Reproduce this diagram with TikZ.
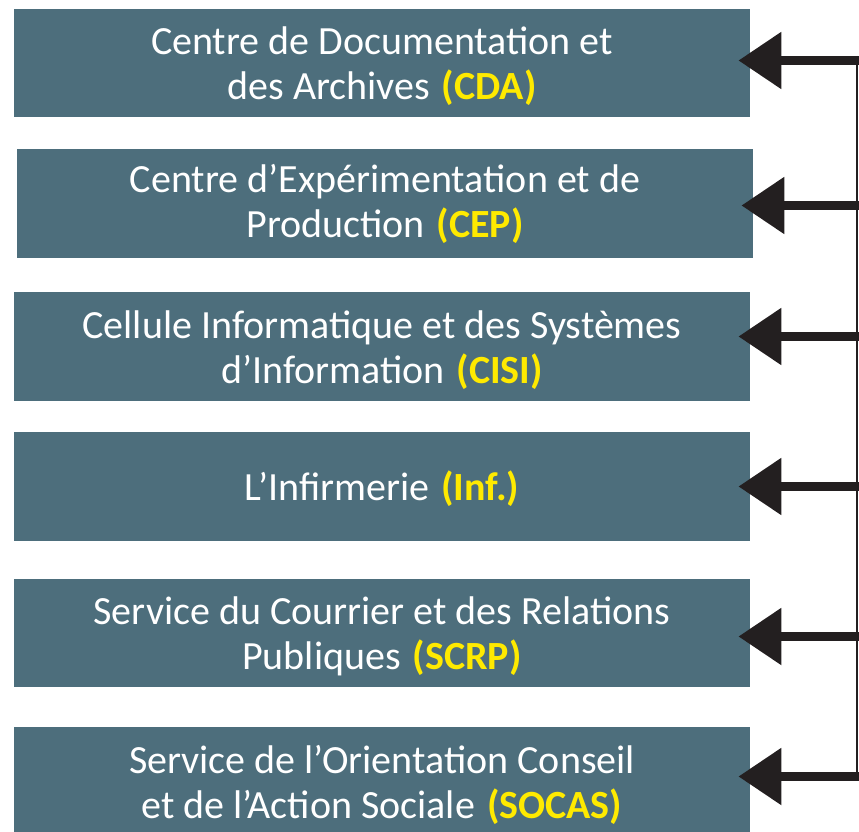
\documentclass[tikz,border=0pt]{standalone}
\usepackage{fontspec}
\setmainfont{Carlito}
\usetikzlibrary{arrows.meta}
\definecolor{boxfill}{RGB}{77,110,124}
\definecolor{abbr}{RGB}{255,234,0}
\definecolor{arrowc}{RGB}{35,31,32}
\newcommand{\ab}[1]{\hspace{12pt}\textbf{\textcolor{abbr}{#1}}}
\begin{document}
\begin{tikzpicture}[x=1pt,y=-1pt,
  box/.style={fill=boxfill, draw=none, minimum width=736pt, inner sep=0pt,
    anchor=north west},
  txt/.style={text=white, align=center, anchor=base, inner sep=0pt,
    font=\fontsize{40}{45}\selectfont},
  arr/.style={draw=arrowc, line width=9pt,
    -{Triangle[length=43pt,width=55pt]}, arrowc},
  bus/.style={draw=arrowc, line width=2.6pt}]
\useasboundingbox (0,0) rectangle (859,832);
\node[box, minimum height=108pt] (b1) at (14,9) {};
\node[box, minimum height=109pt] (b2) at (17,149) {};
\node[box, minimum height=109pt] (b3) at (14,292) {};
\node[box, minimum height=109pt] (b4) at (14,432) {};
\node[box, minimum height=108pt] (b5) at (14,579) {};
\node[box, minimum height=114pt] (b6) at (14,727) {};
\node[txt] (t1) at (382,100) {Centre de Documentation et\\des Archives\ab{(CDA)}};
\node[txt] (t2) at (385,237) {Centre d’Expérimentation et de\\Production\ab{(CEP)}};
\node[txt] (t3) at (382,383) {Cellule Informatique et des Systèmes\\d’Information\ab{(CISI)}};
\node[txt] (t4) at (382,500) {L’Infirmerie\ab{(Inf.)}};
\node[txt] (t5) at (382,669) {Service du Courrier et des Relations\\Publiques\ab{(SCRP)}};
\node[txt] (t6) at (382,818) {Service de l’Orientation Conseil\\et de l’Action Sociale\ab{(SOCAS)}};
\coordinate (r1) at (859,60.5);
\coordinate (r2) at (859,205.5);
\coordinate (r3) at (859,336.5);
\coordinate (r4) at (859,486.5);
\coordinate (r5) at (859,636.5);
\coordinate (r6) at (859,776.5);
\draw[bus] (857,56) -- (857,781);
\foreach \i in {1,...,6}{
  \draw[arr, shorten >=-12pt] (r\i) -- (b\i.east |- r\i);
}
\end{tikzpicture}
\end{document}
